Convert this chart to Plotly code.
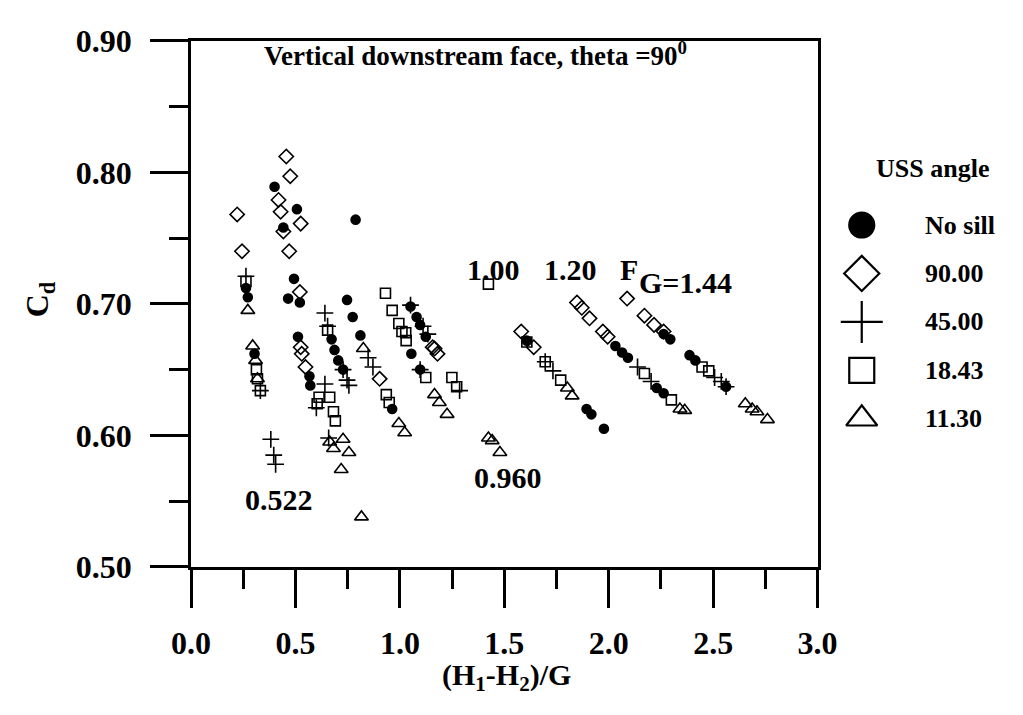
import plotly.graph_objects as go

W, H = 1023, 715
# plotting box in pixels (left, right, top, bottom)
BOX_L, BOX_R, BOX_T, BOX_B = 178, 830, 24, 578
FONT = "Liberation Serif"
INK = "black"

# ---- measured discharge coefficients, grouped by upstream sill angle ----
nosill_x = [0.400, 0.507, 0.788, 0.442, 0.263, 0.272, 0.493, 0.465, 0.521, 0.747,
            0.774, 0.512, 0.811, 1.051, 1.080, 1.097, 1.124, 0.567, 0.571, 0.673,
            0.687, 0.705, 0.728, 0.963, 1.055, 1.097, 0.304, 1.894, 1.917, 1.977,
            1.608, 2.032, 2.064, 2.092, 2.230, 2.263, 2.263, 2.295, 2.387, 2.415,
            2.562]
nosill_y = [0.789, 0.772, 0.764, 0.758, 0.712, 0.705, 0.719, 0.704, 0.701, 0.703,
            0.690, 0.675, 0.676, 0.698, 0.690, 0.684, 0.675, 0.645, 0.638, 0.673,
            0.665, 0.657, 0.650, 0.620, 0.662, 0.650, 0.662, 0.620, 0.616, 0.605,
            0.672, 0.668, 0.663, 0.659, 0.636, 0.632, 0.677, 0.673, 0.661, 0.657,
            0.637]

sill90_x = [0.456, 0.475, 0.419, 0.429, 0.221, 0.525, 0.442, 0.244, 0.470, 0.521,
            0.525, 0.530, 0.548, 0.903, 1.166, 1.180, 1.157, 1.581, 1.641, 1.848,
            1.871, 1.908, 1.972, 1.995, 2.088, 2.171, 2.217, 2.263]
sill90_y = [0.812, 0.797, 0.779, 0.770, 0.768, 0.761, 0.755, 0.740, 0.740, 0.709,
            0.667, 0.662, 0.652, 0.643, 0.666, 0.662, 0.667, 0.679, 0.667, 0.701,
            0.697, 0.689, 0.679, 0.675, 0.704, 0.691, 0.684, 0.679]

sill45_x = [0.263, 0.641, 0.654, 0.641, 0.382, 0.396, 0.405, 0.659, 0.848, 0.871,
            0.728, 0.747, 0.756, 1.051, 1.111, 1.134, 1.097, 1.286, 1.696, 1.733,
            2.138, 2.203, 2.507, 2.539, 2.562, 0.332, 0.600, 1.040]
sill45_y = [0.721, 0.693, 0.683, 0.639, 0.597, 0.585, 0.578, 0.598, 0.659, 0.652,
            0.650, 0.642, 0.638, 0.699, 0.683, 0.677, 0.650, 0.634, 0.656, 0.649,
            0.652, 0.641, 0.644, 0.641, 0.637, 0.634, 0.621, 0.475]

sill1843_x = [0.263, 0.313, 0.318, 0.332, 0.604, 0.613, 0.664, 0.682, 0.691, 0.654,
              0.931, 0.963, 0.995, 1.028, 1.010, 1.030, 1.124, 0.935, 0.949, 1.249,
              1.272, 1.424, 1.608, 1.696, 1.770, 2.171, 2.300, 2.447, 2.479]
sill1843_y = [0.717, 0.650, 0.643, 0.634, 0.624, 0.629, 0.629, 0.618, 0.611, 0.680,
              0.708, 0.695, 0.685, 0.678, 0.679, 0.672, 0.644, 0.631, 0.625, 0.644,
              0.637, 0.715, 0.671, 0.656, 0.642, 0.647, 0.627, 0.652, 0.649]

sill1130_x = [0.272, 0.295, 0.309, 0.318, 0.664, 0.682, 0.728, 0.756, 0.719, 0.816,
              0.825, 0.995, 1.023, 1.166, 1.189, 1.226, 1.424, 1.442, 1.479, 1.802,
              1.825, 2.341, 2.364, 2.654, 2.687, 2.710, 2.760]
sill1130_y = [0.695, 0.668, 0.657, 0.643, 0.595, 0.590, 0.597, 0.587, 0.574, 0.538,
              0.666, 0.609, 0.602, 0.631, 0.625, 0.616, 0.598, 0.596, 0.587, 0.636,
              0.630, 0.620, 0.619, 0.624, 0.620, 0.618, 0.612]

legend_labels = ["No sill", "90.00", "45.00", "18.43", "11.30"]

# Froude-number labels written next to the data groups
fg_text = ["0.522", "0.960", "1.00", "1.20"]
fg_x = [0.419, 1.516, 1.447, 1.816]
fg_y = [0.551, 0.568, 0.726, 0.726]

x_ticks = [0.0, 0.5, 1.0, 1.5, 2.0, 2.5, 3.0]
y_ticks = [0.50, 0.60, 0.70, 0.80, 0.90]

series = [
    (nosill_x, nosill_y, "circle", 9),
    (sill90_x, sill90_y, "diamond-open", 11),
    (sill45_x, sill45_y, "cross-thin-open", 12),
    (sill1843_x, sill1843_y, "square-open", 10),
    (sill1130_x, sill1130_y, "triangle-up-open", 12),
]

fig = go.Figure()
for xs, ys, sym, size in series:
    fig.add_trace(go.Scatter(
        x=xs, y=ys, mode="markers", showlegend=False, cliponaxis=False,
        marker=dict(symbol=sym, size=size, color=INK,
                    line=dict(color=INK, width=1.6)),
        xaxis="x", yaxis="y"))

# hand-built key on a pixel-scaled overlay axis
key_x, key_y0, key_gap = 876, 218, 51
key_syms = [("circle", 25), ("diamond-open", 27), ("cross-thin-open", 30),
            ("square-open", 25), ("triangle-up-open", 27)]
for i, (sym, size) in enumerate(key_syms):
    fig.add_trace(go.Scatter(
        x=[key_x], y=[key_y0 + i * key_gap], mode="markers", showlegend=False,
        marker=dict(symbol=sym, size=size, color=INK, line=dict(color=INK, width=2.2)),
        xaxis="x2", yaxis="y2", hoverinfo="skip"))

bold = dict(family=FONT, color=INK, weight="bold")
ann = []
for i, lab in enumerate(legend_labels):
    ann.append(dict(x=940, y=key_y0 + i * key_gap, xref="x2", yref="y2", text=lab,
                    showarrow=False, xanchor="left", yanchor="middle",
                    font=dict(size=26, **bold)))
ann.append(dict(x=950, y=158, xref="x2", yref="y2", text="USS angle", showarrow=False,
                xanchor="center", yanchor="middle", font=dict(size=26, **bold)))
ann.append(dict(x=252, y=38, xref="x2", yref="y2",
                text="Vertical downstream face, theta =90<sup>0</sup>",
                showarrow=False, xanchor="left", yanchor="middle",
                font=dict(size=27, **bold)))
ann.append(dict(x=506, y=715, xref="x2", yref="y2",
                text="(H<sub>1</sub>-H<sub>2</sub>)/G", showarrow=False,
                xanchor="center", yanchor="bottom", borderpad=0,
                font=dict(size=30, **bold)))
ann.append(dict(x=20, y=296, xref="x2", yref="y2", text="C<sub>d</sub>",
                showarrow=False, textangle=-90, xanchor="center", yanchor="middle",
                font=dict(size=32, **bold)))
for t, xv, yv in zip(fg_text, fg_x, fg_y):
    ann.append(dict(x=xv, y=yv, xref="x", yref="y", text=t, showarrow=False,
                    xanchor="center", yanchor="middle", font=dict(size=30, **bold)))
ann.append(dict(x=2.046, y=0.726, xref="x", yref="y", text="F", showarrow=False,
                xanchor="left", yanchor="middle", font=dict(size=30, **bold)))
ann.append(dict(x=2.134, y=0.716, xref="x", yref="y", text="G=1.44", showarrow=False,
                xanchor="left", yanchor="middle", font=dict(size=30, **bold)))

axis_common = dict(showline=True, linewidth=3, linecolor=INK, mirror=True,
                   ticks="outside", tickwidth=3, tickcolor=INK, ticklen=38,
                   showgrid=False, zeroline=False,
                   tickfont=dict(size=32, **bold))

fig.update_layout(
    width=W, height=H, margin=dict(l=0, r=0, t=0, b=0),
    paper_bgcolor="white", plot_bgcolor="rgba(0,0,0,0)", showlegend=False,
    xaxis=dict(domain=[BOX_L / W, BOX_R / W], range=[0, 3.0], anchor="y",
               tickvals=x_ticks, ticktext=[f"{v:.1f}" for v in x_ticks],
               ticklabelstandoff=8,
               minor=dict(ticks="outside", ticklen=19, tickwidth=3, tickcolor=INK,
                          dtick=0.25, tick0=0, showgrid=False),
               **axis_common),
    yaxis=dict(domain=[(H - BOX_B) / H, (H - BOX_T) / H], range=[0.5, 0.9], anchor="x",
               tickvals=y_ticks, ticktext=[f"{v:.2f}" for v in y_ticks],
               ticklabelstandoff=12,
               minor=dict(ticks="outside", ticklen=19, tickwidth=3, tickcolor=INK,
                          dtick=0.05, tick0=0.5, showgrid=False),
               **axis_common),
    xaxis2=dict(domain=[0, 1], range=[0, W], anchor="y2", visible=False),
    yaxis2=dict(domain=[0, 1], range=[H, 0], anchor="x2", visible=False),
    annotations=ann,
)

fig.write_html("out.html")
